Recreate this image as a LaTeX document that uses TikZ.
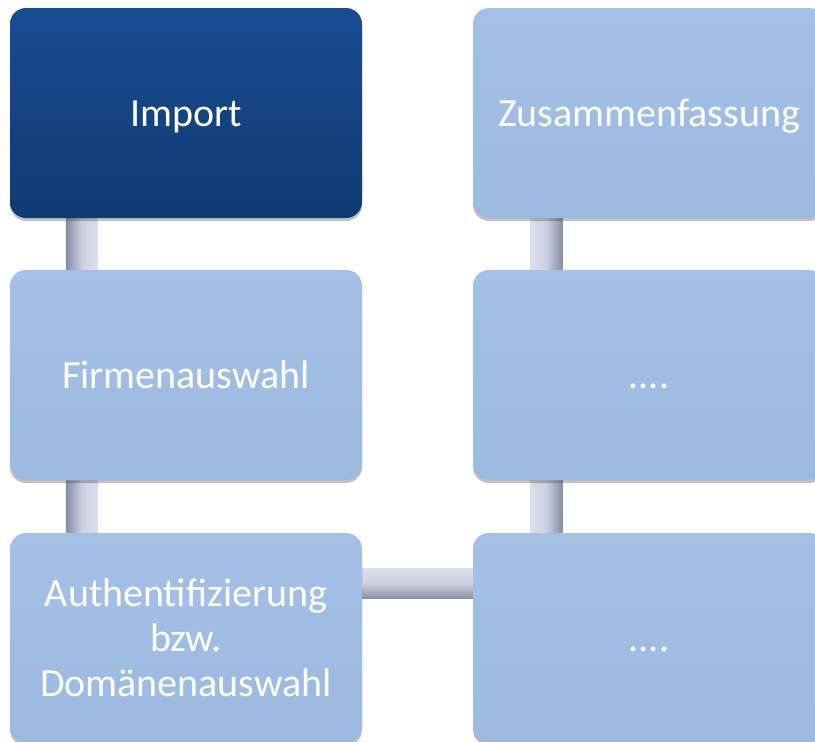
\documentclass[tikz,border=0pt]{standalone}
\usepackage{fontspec}
\setmainfont{Carlito}
\usetikzlibrary{shadows,calc,backgrounds}
\definecolor{darkA}{HTML}{184C91}
\definecolor{darkB}{HTML}{0F3B72}
\definecolor{lightA}{HTML}{A4C0E6}
\definecolor{lightB}{HTML}{9CB9E0}
\definecolor{connD}{HTML}{858CA3}
\definecolor{connL}{HTML}{DCE0EE}
\tikzset{
  box/.style={rounded corners=16pt, minimum width=352pt, minimum height=210pt,
    text=white, align=center, inner sep=0pt,
    font=\fontsize{40}{45}\selectfont,
    drop shadow={shadow xshift=0pt, shadow yshift=-3pt, opacity=0.35, fill=black!70}},
  oneline/.style={text height=32pt, text depth=6pt},
  darkbox/.style={box, top color=darkA, bottom color=darkB},
  lightbox/.style={box, top color=lightA, bottom color=lightB},
  vconn/.style={left color=connD, right color=connL, middle color=connL!80!connD},
  vconnR/.style={left color=connL, right color=connD, middle color=connL!80!connD},
  hconn/.style={top color=connL, bottom color=connD, middle color=connL!80!connD}
}
\begin{document}
\begin{tikzpicture}[x=1pt,y=-1pt]
\useasboundingbox (0,0) rectangle (815,742);
\clip (0,0) rectangle (815,742);
% boxes
\node[darkbox, oneline]  (imp)  at (186,113) {Import};
\node[lightbox, oneline] (firm) at (186,375) {Firmenauswahl};
\node[lightbox]          (auth) at (186,638) {Authentifizierung\\bzw.\\Domänenauswahl};
\node[lightbox, oneline] (zus)  at (649,113) {Zusammenfassung};
\node[lightbox, oneline] (mid)  at (649,375) {....};
\node[lightbox, oneline] (bot)  at (649,638) {....};
% connectors (behind boxes)
\begin{scope}[on background layer]
\path[vconn] ($(imp.south west)+(56,-2)$) rectangle ($(firm.north west)+(88,2)$);
\path[vconn] ($(firm.south west)+(56,-2)$) rectangle ($(auth.north west)+(88,2)$);
\path[vconnR] ($(zus.south west)+(57,-2)$) rectangle ($(mid.north west)+(90,2)$);
\path[vconnR] ($(mid.south west)+(57,-2)$) rectangle ($(bot.north west)+(90,2)$);
\path[hconn] ($(auth.north east)+(-2,36)$) rectangle ($(bot.north west)+(2,66)$);
\end{scope}
\end{tikzpicture}
\end{document}
